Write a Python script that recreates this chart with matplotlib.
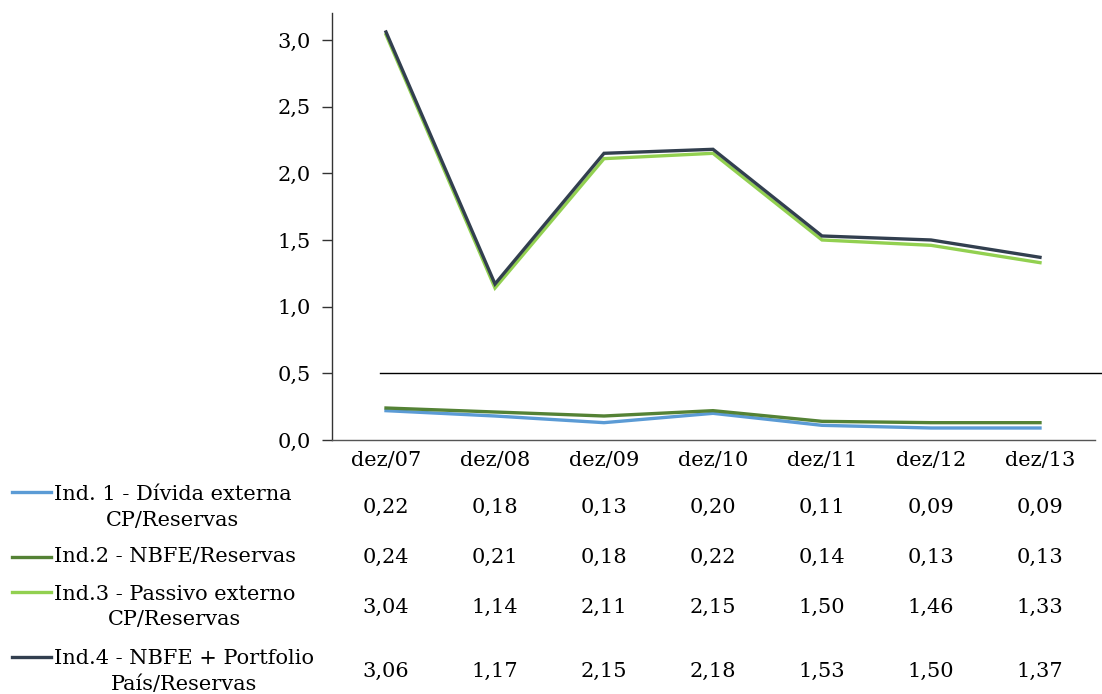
import matplotlib
matplotlib.use("Agg")
import matplotlib.pyplot as plt
import matplotlib.transforms as mtransforms
from matplotlib.lines import Line2D
from matplotlib.ticker import FuncFormatter

W, H = 1102, 694

categories = ["dez/07", "dez/08", "dez/09", "dez/10", "dez/11", "dez/12", "dez/13"]
ind1 = [0.22, 0.18, 0.13, 0.20, 0.11, 0.09, 0.09]
ind2 = [0.24, 0.21, 0.18, 0.22, 0.14, 0.13, 0.13]
ind3 = [3.04, 1.14, 2.11, 2.15, 1.50, 1.46, 1.33]
ind4 = [3.06, 1.17, 2.15, 2.18, 1.53, 1.50, 1.37]
series_labels = [
    "Ind. 1 - Dívida externa\nCP/Reservas",
    "Ind.2 - NBFE/Reservas",
    "Ind.3 - Passivo externo\nCP/Reservas",
    "Ind.4 - NBFE + Portfolio\nPaís/Reservas",
]
series = [ind1, ind2, ind3, ind4]
colors = ["#5B9BD5", "#548235", "#92D050", "#323F4F"]
y_ticks = [0.0, 0.5, 1.0, 1.5, 2.0, 2.5, 3.0]
ref_level = 0.5

plt.rcParams["font.family"] = ["DejaVu Serif"]
FS = 15

fig = plt.figure(figsize=(W / 100, H / 100), dpi=100)
ax_left, ax_right = 331.5 / W, 1094.5 / W
ax_bottom, ax_top = 1 - 440 / H, 1 - 13.3 / H
ax = fig.add_axes([ax_left, ax_bottom, ax_right - ax_left, ax_top - ax_bottom])

x = list(range(len(categories)))
for vals, col in zip(series, colors):
    ax.plot(x, vals, color=col, lw=2.4, solid_joinstyle="miter", zorder=3)

ax.set_xlim(-0.5, len(categories) - 0.5)
ax.set_ylim(0, 3.2)
ax.set_yticks(y_ticks)
ax.yaxis.set_major_formatter(FuncFormatter(lambda v, p: f"{v:.1f}".replace(".", ",")))
ax.set_xticks(x)
ax.set_xticklabels(categories)
ax.tick_params(axis="x", length=0, pad=8, labelsize=FS)
ax.tick_params(axis="y", length=7, width=1, direction="out", pad=8, labelsize=FS, color="#333333")
for s in ["top", "right"]:
    ax.spines[s].set_visible(False)
ax.spines["left"].set_color("#333333")
ax.spines["bottom"].set_color("#555555")
ax.spines["left"].set_linewidth(1)
ax.spines["bottom"].set_linewidth(1)

# horizontal reference line at 0.5
xmin_frac = (380 - 331.5) / (1094.5 - 331.5)
xmax_frac = (1102 - 331.5) / (1094.5 - 331.5)
ax.axhline(ref_level, xmin=xmin_frac, xmax=xmax_frac, color="black", lw=1, clip_on=False, zorder=2)

# data table
row_centers = [507.5, 557, 607, 671.5]
key_y = [492, 557, 592, 657]
trans = mtransforms.blended_transform_factory(ax.transData, fig.transFigure)
for vals, col, lab, yc, ky in zip(series, colors, series_labels, row_centers, key_y):
    for xi, v in zip(x, vals):
        ax.text(xi, 1 - yc / H, f"{v:.2f}".replace(".", ","), transform=trans,
                ha="center", va="center", fontsize=FS, clip_on=False)
    fig.add_artist(Line2D([12 / W, 51 / W], [1 - ky / H] * 2, color=col, lw=2.4))
    fig.text(54 / W, 1 - yc / H, lab, ha="left", va="center", multialignment="center",
             fontsize=FS, linespacing=1.4)

fig.savefig("out.png", dpi=100)
